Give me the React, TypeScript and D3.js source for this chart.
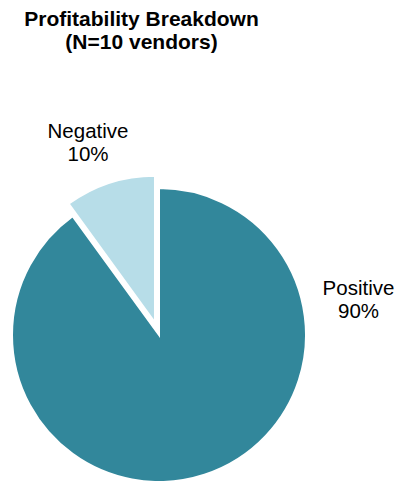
import React from "react";
import * as d3 from "d3";

const categories = ["Positive", "Negative"];
const values = [90, 10];
const labels = ["90%", "10%"];
const colors = ["#32879b", "#b7dde8"];

export default function App() {
  const width = 399, height = 481;
  const cx = 159, cy = 335, r = 147;
  const pie = d3.pie<number>().sort(null).startAngle(0).endAngle(2 * Math.PI);
  const arcs = pie(values);
  const arc = d3.arc<d3.PieArcDatum<number>>().innerRadius(0).outerRadius(r);
  const explode = [0, 13];
  const labelPos: [number, number][] = [[358.5, 295], [88, 137.5]];
  return (
    <svg width={width} height={height} style={{ position: "absolute", left: 0, top: 0 }}
      fontFamily="'Liberation Sans', Arial, sans-serif">
      <text x={141.5} y={26} textAnchor="middle" fontWeight="bold" fontSize={21}>Profitability Breakdown</text>
      <text x={141.5} y={48.5} textAnchor="middle" fontWeight="bold" fontSize={21}>(N=10 vendors)</text>
      {arcs.map((a, i) => {
        const mid = (a.startAngle + a.endAngle) / 2;
        const dx = Math.sin(mid) * explode[i];
        const dy = -Math.cos(mid) * explode[i];
        return (
          <path key={categories[i]} d={arc(a) || ""} fill={colors[i]} stroke="#fff" strokeWidth={2}
            transform={`translate(${cx + dx},${cy + dy})`} />
        );
      })}
      {categories.map((c, i) => (
        <g key={c}>
          <text x={labelPos[i][0]} y={labelPos[i][1]} textAnchor="middle" fontSize={20.5}>{c}</text>
          <text x={labelPos[i][0]} y={labelPos[i][1] + 23} textAnchor="middle" fontSize={20.5}>{labels[i]}</text>
        </g>
      ))}
    </svg>
  );
}
